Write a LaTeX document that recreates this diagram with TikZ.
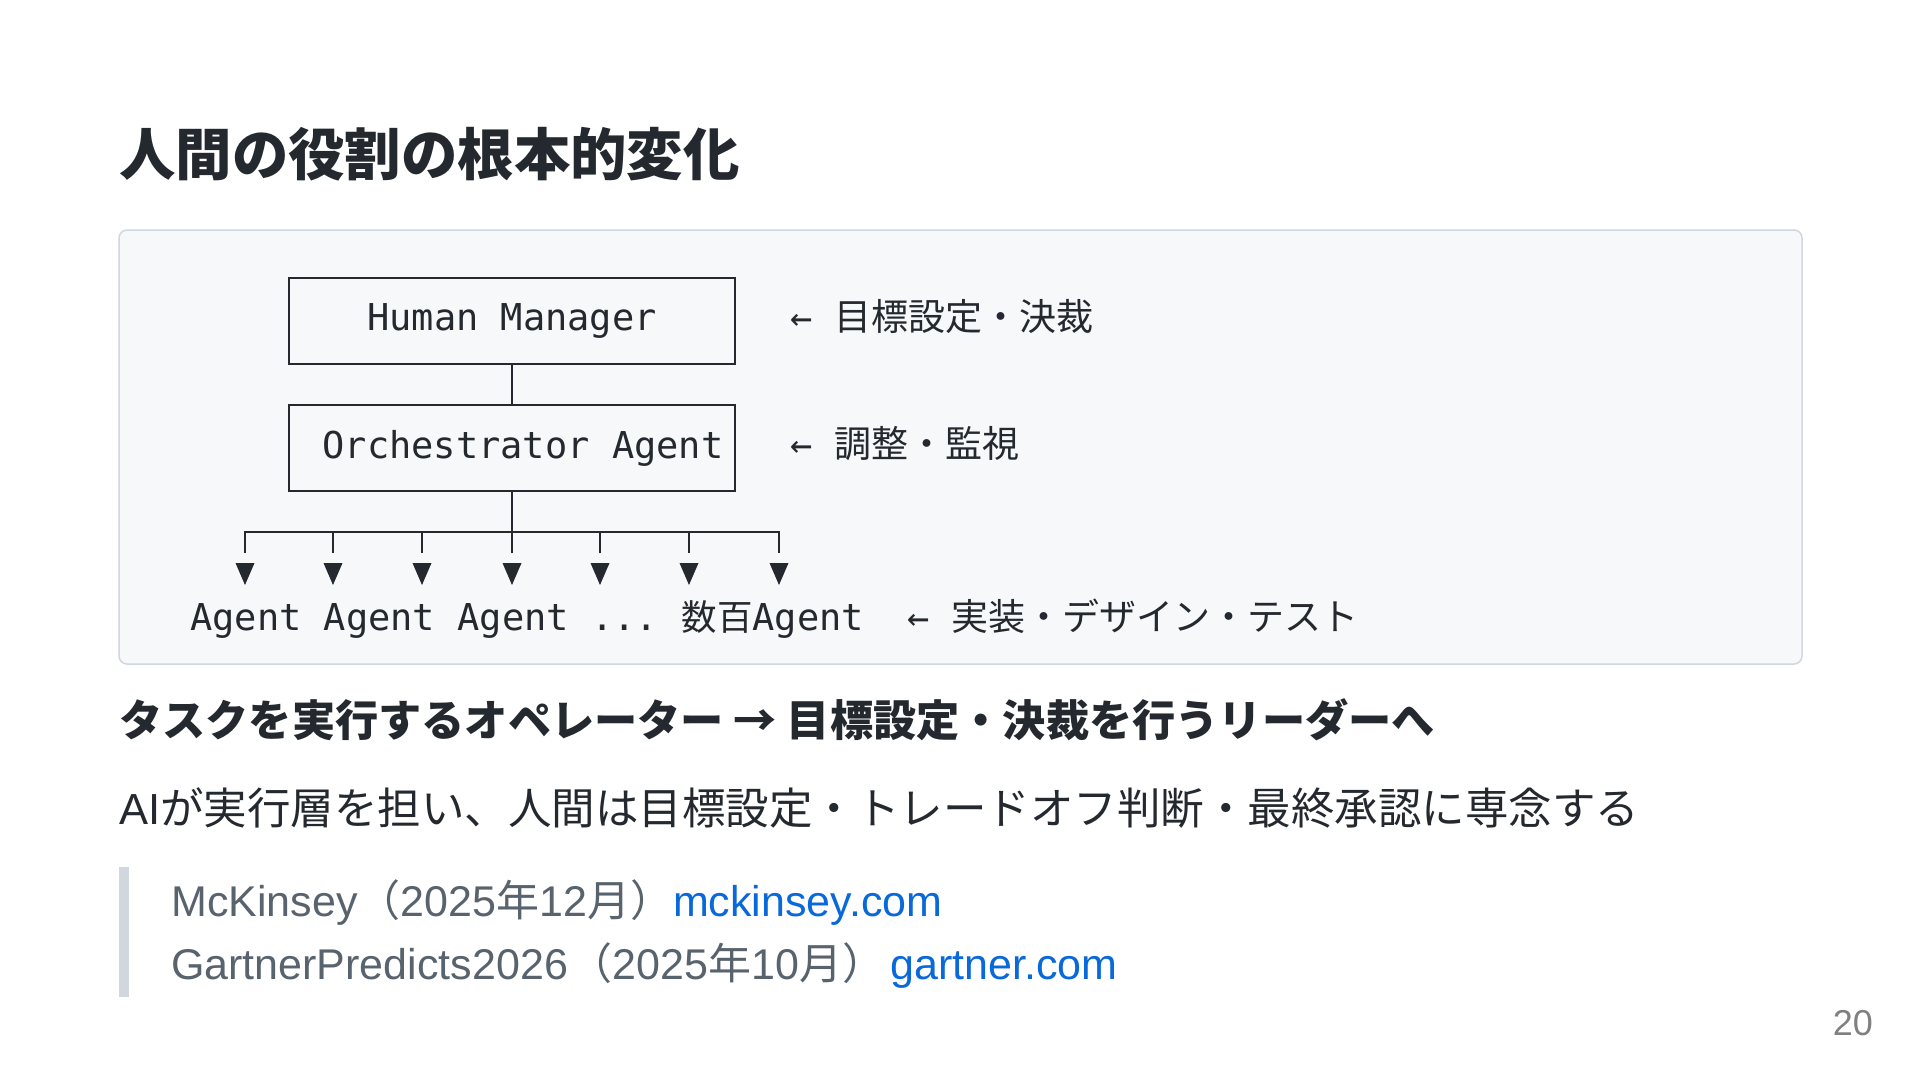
\documentclass[tikz,border=0pt]{standalone}
\usepackage{fontspec}
\setmainfont{Liberation Sans}
\newfontfamily\cjk{Noto Sans CJK JP}
\newfontfamily\mono{DejaVu Sans Mono}
\definecolor{ink}{HTML}{24292F}
\definecolor{boxbg}{HTML}{F6F8FA}
\definecolor{boxline}{HTML}{D0D7DE}
\definecolor{quotec}{HTML}{59636E}
\definecolor{linkc}{HTML}{0969DA}
\definecolor{pnum}{HTML}{808080}
\begin{document}
\begin{tikzpicture}[x=1pt,y=-1pt,
  txt/.style={inner sep=0pt, anchor=base west, text=ink},
  mfont/.style={font=\mono\fontsize{37}{44}\selectfont},
  annfont/.style={font=\fontsize{37}{44}\selectfont},
  mbox/.style={draw=ink, line width=2.7pt, minimum width=446pt, minimum height=86pt, inner sep=0pt, text=ink, mfont},
  wire/.style={draw=ink, line width=2.7pt},
  tip/.style={fill=ink},
  panelbox/.style={draw=boxline, fill=boxbg, rounded corners=8pt, line width=1.5pt, minimum width=1683pt, minimum height=434pt, inner sep=0pt},
  body/.style={txt, font=\fontsize{43.5}{52}\selectfont},
  quoteline/.style={txt, text=quotec, font=\fontsize{43}{52}\selectfont},
]
\useasboundingbox[fill=white] (0,0) rectangle (1920,1080);

% title
\node[txt, font=\cjk\bfseries\fontsize{56.4}{67}\selectfont] (title) at (119,175) {人間の役割の根本的変化};

% diagram panel
\node[panelbox] (panel) at (960.5,447) {};

\node[mbox] (hm) at (512,321) {Human Manager};
\node[mbox] (orch) at (512,448) {\hspace*{22pt}Orchestrator Agent};
\draw[wire] (hm.south) -- (orch.north);

\coordinate (bus) at (512,532);
\foreach \i/\x in {1/245,2/333,3/422,4/512,5/600,6/689,7/779}{
  \coordinate (tk\i) at (\x,553);
}
\draw[wire] (orch.south) -- (bus);
\draw[wire] (tk1) |- (bus) -| (tk7);
\foreach \i in {2,3,4,5,6}{
  \draw[wire] (tk\i) -- (tk\i |- bus);
}
\foreach \i in {1,...,7}{
  \fill[tip, shift={(tk\i)}] (-9.5,10) -- (9.5,10) -- (0,32) -- cycle;
}

\node[txt, mfont] (agents) at (190,630) {Agent Agent Agent ... \hspace*{-6pt}{\cjk\fontsize{35.5}{44}\selectfont 数百}Agent};

\node[txt, annfont] (ann1) at (790,330) {{\mono ← }{\cjk 目標設定・決裁}};
\node[txt, annfont] (ann2) at (790,457) {{\mono ← }{\cjk 調整・監視}};
\node[txt, annfont] (ann3) at (907,630) {{\mono ← }{\cjk 実装・デザイン・テスト}};

% heading and body
\node[txt, font=\cjk\bfseries\fontsize{43.2}{52}\selectfont] (head) at (119,736) {タスクを実行するオペレーター → 目標設定・決裁を行うリーダーへ};
\node[body] (bodyline) at (119,824) {AI{\cjk が実行層を担い、人間は目標設定・トレードオフ判断・最終承認に専念する}};

% blockquote
\fill[boxline] (119,867) rectangle (129,997);
\node[quoteline] (q1) at (171,916) {McKinsey{\cjk （}2025{\cjk 年}12{\cjk 月）}\textcolor{linkc}{mckinsey.com}};
\node[quoteline] (q2) at (171,979) {GartnerPredicts2026\hspace*{2pt}{\cjk （}2025{\cjk 年}10{\cjk 月）}\hspace*{5pt}\textcolor{linkc}{gartner.com}};

% page number
\node[txt, text=pnum, anchor=base east, font=\fontsize{36}{43}\selectfont] (pg) at (1873,1035) {20};
\end{tikzpicture}
\end{document}
